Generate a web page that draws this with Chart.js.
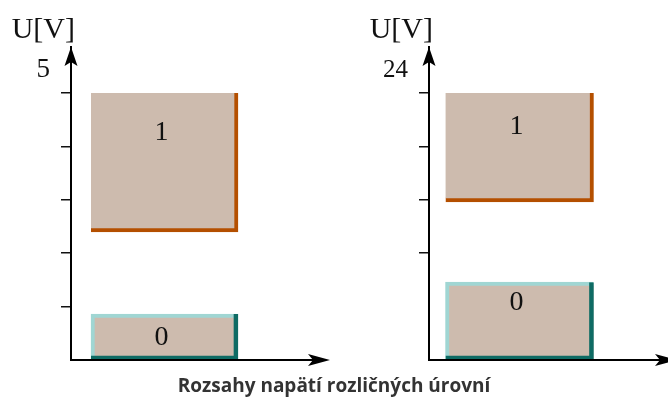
<!DOCTYPE html>
<html>
<head>
<meta charset="utf-8">
<script src="https://cdn.jsdelivr.net/npm/chart.js@4.4.0/dist/chart.umd.min.js"></script>
<style>
  body { margin: 0; background: #fff; }
  #wrap { position: relative; width: 668px; height: 405px; overflow: hidden; }
  .box { position: absolute; top: 0; width: 334px; height: 405px; }
  #title {
    position: absolute; left: 0; top: 372px; width: 668px; text-align: center;
    font-family: "Open Sans", sans-serif; font-weight: bold; font-size: 19px; color: #333;
  }
</style>
</head>
<body>
<div id="wrap">
  <div class="box" style="left:0"><canvas id="ttlChart" width="334" height="405"></canvas></div>
  <div class="box" style="left:334px"><canvas id="indChart" width="334" height="405"></canvas></div>
  <div id="title">Rozsahy napätí rozličných úrovní</div>
</div>
<script>
// logic levels
const levelNames = ['1', '0'];

// 5 V logic (left)
const ttlHigh = [2.4, 5];
const ttlLow = [0, 0.86];
const ttlTicks = [1, 2, 3, 4, 5];
const ttlTop = 5;

// 24 V logic (right)
const indHigh = [14.2, 24];
const indLow = [0, 7];
const indTicks = [9.6, 14.4, 19.2, 24];
const indTop = 24;

const tan = '#cdbbae';
const orange = '#b44f00';
const cyan = '#a0d6d3';
const teal = '#0e6b64';

// axis arrows, U[V] and box labels
const decor = {
  id: 'decor',
  afterDatasetsDraw(chart, args, opts) {
    const ctx = chart.ctx;
    const a = chart.chartArea;
    ctx.save();
    // x axis line + arrow
    ctx.strokeStyle = '#000';
    ctx.lineWidth = 2;
    ctx.beginPath();
    ctx.moveTo(a.left - 1, a.bottom);
    ctx.lineTo(opts.xTip - 12, a.bottom);
    ctx.stroke();
    ctx.fillStyle = '#000';
    ctx.beginPath();
    ctx.moveTo(opts.xTip, a.bottom);
    ctx.lineTo(opts.xTip - 22, a.bottom - 6);
    ctx.lineTo(opts.xTip - 17, a.bottom);
    ctx.lineTo(opts.xTip - 22, a.bottom + 6);
    ctx.closePath();
    ctx.fill();
    // y arrow
    ctx.beginPath();
    ctx.moveTo(a.left, a.top);
    ctx.lineTo(a.left - 6.5, a.top + 19);
    ctx.lineTo(a.left, a.top + 15);
    ctx.lineTo(a.left + 6.5, a.top + 19);
    ctx.closePath();
    ctx.fill();
    // texts
    ctx.fillStyle = '#111';
    ctx.textAlign = 'right';
    ctx.textBaseline = 'alphabetic';
    ctx.font = '30px "Liberation Serif", serif';
    ctx.fillText('U[V]', a.left + 4, 38);
    ctx.font = opts.topFont + ' "Liberation Serif", serif';
    ctx.fillText(opts.topLabel, a.left - 21, 77);
    // box labels
    ctx.textAlign = 'center';
    ctx.textBaseline = 'middle';
    ctx.font = '28px "Liberation Serif", serif';
    chart.data.datasets.forEach((ds, i) => {
      if (!ds.boxLabel) return;
      const el = chart.getDatasetMeta(i).data[0];
      const top = Math.min(el.y, el.base);
      ctx.fillText(ds.boxLabel, el.x - 3, top + ds.labelOffset);
    });
    ctx.restore();
  }
};

function makeChart(id, high, low, ticks, top, pad, thick, xTip, offsets) {
  const yMax = top * 313 / 267;
  return new Chart(document.getElementById(id), {
    type: 'bar',
    data: {
      labels: ['U'],
      datasets: [
        {
          data: [high], backgroundColor: tan, borderColor: orange, order: 2,
          borderWidth: { top: 0, left: 0, right: 4, bottom: 4 },
          boxLabel: levelNames[0], labelOffset: offsets[0]
        },
        {
          data: [low], backgroundColor: tan, borderColor: cyan, order: 1,
          borderWidth: { top: 4, left: 4, right: 0, bottom: 0 },
          boxLabel: levelNames[1], labelOffset: offsets[1]
        },
        {
          data: [low], backgroundColor: 'rgba(0,0,0,0)', borderColor: teal, order: 0,
          borderWidth: { top: 0, left: 0, right: 4, bottom: 4 }
        }
      ]
    },
    options: {
      responsive: false,
      animation: false,
      events: [],
      layout: { padding: pad },
      datasets: {
        bar: { grouped: false, borderSkipped: false, barThickness: thick }
      },
      plugins: {
        legend: { display: false },
        tooltip: { enabled: false },
        decor: { xTip: xTip, topLabel: String(top), topFont: top > 9 ? '25px' : '27px' }
      },
      scales: {
        x: { display: false },
        y: {
          min: 0, max: yMax,
          afterBuildTicks: s => { s.ticks = ticks.map(v => ({ value: v })); },
          afterFit: s => { s.width = 10; },
          ticks: { display: false },
          grid: { drawOnChartArea: false, drawTicks: true, tickLength: 10, color: '#111', lineWidth: 1.5 },
          border: { display: true, color: '#000', width: 2 }
        }
      }
    },
    plugins: [decor]
  });
}

makeChart('ttlChart', ttlHigh, ttlLow, ttlTicks, ttlTop,
  { left: 61, top: 47, right: 76, bottom: 45 }, 147, 330, [40, 24]);
makeChart('indChart', indHigh, indLow, indTicks, indTop,
  { left: 85, top: 47, right: 58, bottom: 45 }, 148, 343, [34, 21]);
</script>
</body>
</html>
